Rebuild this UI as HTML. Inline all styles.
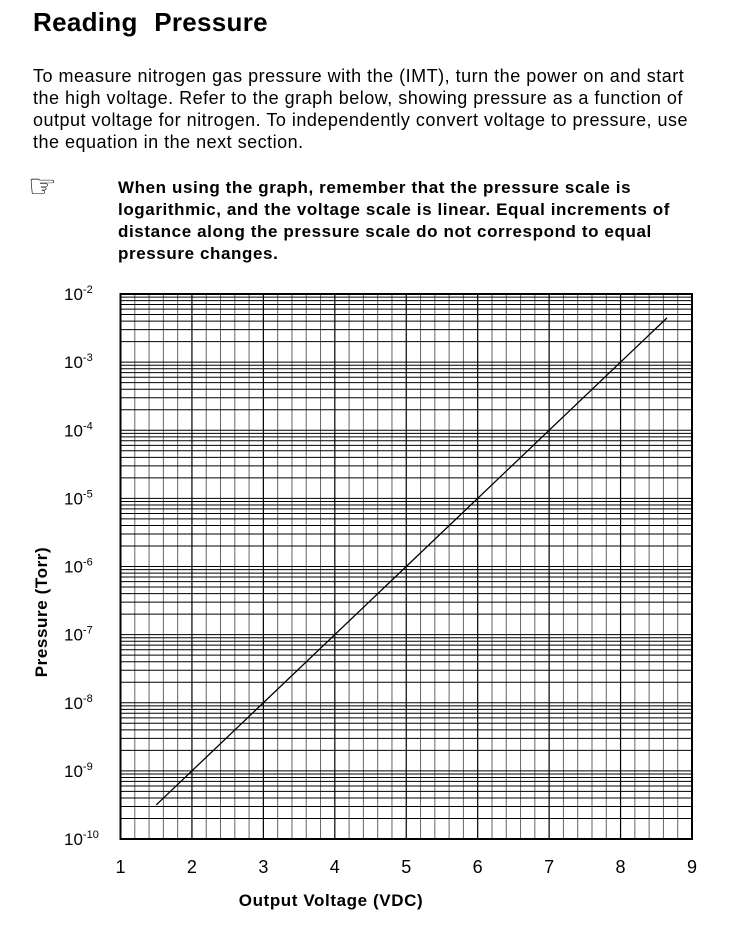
<!DOCTYPE html>
<html><head><meta charset="utf-8"><style>
body{margin:0;width:748px;height:944px;background:#fff;font-family:"Liberation Sans",sans-serif;color:#000;position:relative;overflow:hidden}
.t{position:absolute;white-space:nowrap}
h1{position:absolute;left:33px;top:7px;margin:0;font-size:26px;font-weight:bold;word-spacing:9px;letter-spacing:0.3px}
.p{left:33px;font-size:18px;letter-spacing:0.5px;line-height:22px;top:65px}
.n{left:118px;font-size:17px;letter-spacing:0.6px;font-weight:bold;line-height:22px;top:177px}
</style></head><body>
<h1>Reading Pressure</h1>
<div class="t p">To measure nitrogen gas pressure with the (IMT), turn the power on and start<br>the high voltage. Refer to the graph below, showing pressure as a function of<br>output voltage for nitrogen. To independently convert voltage to pressure, use<br>the equation in the next section.</div>
<div class="t" style="left:28px;top:170px;font-size:32px;line-height:32px">☞</div>
<div class="t n">When using the graph, remember that the pressure scale is<br>logarithmic, and the voltage scale is linear. Equal increments of<br>distance along the pressure scale do not correspond to equal<br>pressure changes.</div>
<svg id="g" width="748" height="944" style="position:absolute;left:0;top:0" xmlns="http://www.w3.org/2000/svg"></svg>
<script>
var s='',L=120.5,R=692,T=294,B=839,dx=(R-L)/8,dy=(B-T)/8;
for(var i=0;i<=40;i++){var x=L+i*dx/5;s+='<line x1="'+x+'" y1="'+T+'" x2="'+x+'" y2="'+B+'" stroke="'+(i%5?'#666':'#000')+'" stroke-width="'+(i%5?1:1.2)+'"/>';}
for(var d=0;d<8;d++){for(var k=1;k<10;k++){var y=B-(d+Math.log10(k))*dy;s+='<line x1="'+L+'" y1="'+y+'" x2="'+R+'" y2="'+y+'" stroke="#000" stroke-width="1"/>';}}
s+='<rect x="'+L+'" y="'+T+'" width="'+(R-L)+'" height="'+(B-T)+'" fill="none" stroke="#000" stroke-width="2"/>';
function px(v){return L+(v-1)*dx}function py(e){return B-(e+10)*dy}
s+='<line x1="'+px(1.5)+'" y1="'+py(-9.5)+'" x2="'+px(8.65)+'" y2="'+py(-2.35)+'" stroke="#000" stroke-width="1.3"/>';
for(var v=1;v<=9;v++)s+='<text x="'+px(v)+'" y="873" font-size="18" text-anchor="middle" font-family="Liberation Sans">'+v+'</text>';
for(var e=-10;e<=-2;e++){var y=py(e)+6;s+='<text x="64" y="'+y+'" font-size="17" font-family="Liberation Sans">10<tspan dy="-7" font-size="11">'+e+'</tspan></text>';}
s+='<text x="331" y="906" font-size="17" letter-spacing="0.6" font-weight="bold" text-anchor="middle" font-family="Liberation Sans">Output Voltage (VDC)</text>';
s+='<text transform="translate(47,612) rotate(-90)" font-size="17" letter-spacing="0.6" font-weight="bold" text-anchor="middle" font-family="Liberation Sans">Pressure (Torr)</text>';
document.getElementById('g').innerHTML=s;
</script>
</body></html>
